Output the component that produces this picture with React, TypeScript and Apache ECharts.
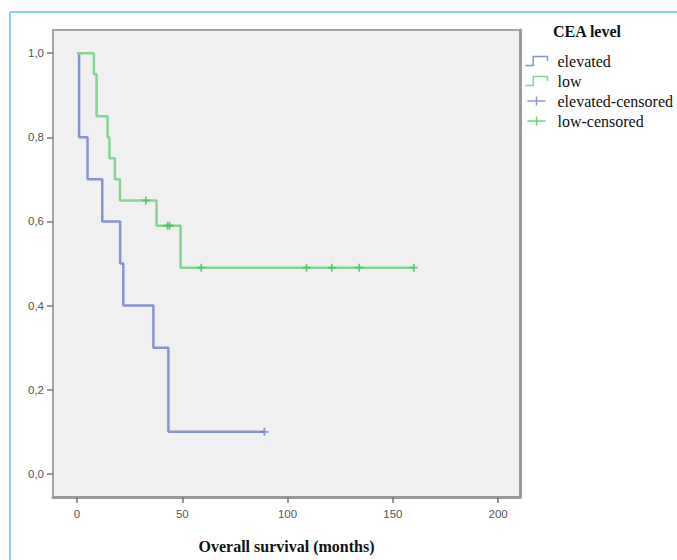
import React, { useEffect, useRef } from "react";
import * as echarts from "echarts";

const xTicks = [0, 50, 100, 150, 200];
const yTicks = [0, 0.2, 0.4, 0.6, 0.8, 1.0];

const elevatedTimes = [0, 1, 5, 12, 20.5, 22, 36.3, 43.4, 89];
const elevatedSurv = [1, 0.8, 0.7, 0.6, 0.5, 0.4, 0.3, 0.1, 0.1];

const lowTimes = [0, 8, 9.3, 14.5, 15.4, 18, 20.4, 37.8, 49.2, 160];
const lowSurv = [1, 0.95, 0.85, 0.8, 0.75, 0.7, 0.65, 0.59, 0.49, 0.49];

const elevatedCensTimes = [89];
const elevatedCensSurv = [0.1];

const lowCensTimes = [32.7, 43, 44, 59, 109, 121, 134, 160];
const lowCensSurv = [0.65, 0.59, 0.59, 0.49, 0.49, 0.49, 0.49, 0.49];

const BLUE = "#8794d0";
const GREEN = "#84d58f";
const BLUE_C = "#6f7fc8";
const GREEN_C = "#4cc35e";

const STEP_ICON = "path://M0,9 L7,9 L7,1 L20,1 L20,5";
const PLUS_ICON = "path://M10,0 L10,10 M0,5 L20,5";
const PLUS_SYMBOL = "path://M5,0 L5,10 M0,5 L10,5";

const zip = (a: number[], b: number[]) => a.map((v, i) => [v, b[i]]);

export default function App() {
  const ref = useRef<HTMLDivElement>(null);
  useEffect(() => {
    if (!ref.current) return;
    const chart = echarts.init(ref.current, null, { renderer: "svg" });
    const sans = "'Liberation Sans', Arial, sans-serif";
    const serif = "'Liberation Serif', 'Times New Roman', serif";
    chart.setOption({
      animation: false,
      backgroundColor: "#ffffff",
      title: {
        text: "CEA level",
        left: 548,
        top: 18,
        textStyle: { fontFamily: serif, fontSize: 16, fontWeight: "bold", color: "#111" },
      },
      legend: {
        orient: "vertical",
        left: 518,
        top: 48,
        itemWidth: 22,
        itemHeight: 9,
        itemGap: 4,
        textStyle: { fontFamily: serif, fontSize: 16, color: "#111", lineHeight: 16, padding: [0, 0, 0, 5] },
        data: [
          { name: "elevated", icon: STEP_ICON, itemStyle: { color: "none", borderColor: BLUE, borderWidth: 1.5 } },
          { name: "low", icon: STEP_ICON, itemStyle: { color: "none", borderColor: GREEN, borderWidth: 1.5 } },
          { name: "elevated-censored", icon: PLUS_ICON, itemStyle: { color: "none", borderColor: BLUE_C, borderWidth: 1.5 } },
          { name: "low-censored", icon: PLUS_ICON, itemStyle: { color: "none", borderColor: GREEN_C, borderWidth: 1.5 } },
        ],
      },
      grid: {
        left: 53,
        top: 30,
        width: 467,
        height: 467,
        show: true,
        backgroundColor: "#f0f0f0",
        borderColor: "#a6a6a6",
        borderWidth: 2,
      },
      xAxis: {
        type: "value",
        min: -11.4,
        max: 210.4,
        splitLine: { show: false },
        axisLine: { show: true, onZero: false, lineStyle: { color: "#9a9a9a", width: 3 } },
        axisTick: { show: true, customValues: xTicks, length: 6, lineStyle: { color: "#777", width: 1.5 } },
        axisLabel: {
          customValues: xTicks,
          margin: 11,
          color: "#555",
          fontFamily: sans,
          fontSize: 11.5,
        },
        name: "Overall survival (months)",
        nameLocation: "middle",
        nameGap: 41,
        nameTextStyle: { fontFamily: serif, fontSize: 16, fontWeight: "bold", color: "#111" },
      },
      yAxis: [
        {
          type: "value",
          min: -0.055,
          max: 1.055,
          splitLine: { show: false },
          axisLine: { show: true, onZero: false, lineStyle: { color: "#a6a6a6", width: 2 } },
          axisTick: { show: true, customValues: yTicks, length: 6, lineStyle: { color: "#777", width: 1.5 } },
          axisLabel: {
            customValues: yTicks,
            margin: 9,
            color: "#555",
            fontFamily: sans,
            fontSize: 11.5,
            formatter: (v: number) => v.toFixed(1).replace(".", ","),
          },
        },
        {
          type: "value",
          position: "right",
          min: -0.055,
          max: 1.055,
          splitLine: { show: false },
          axisLine: { show: true, onZero: false, lineStyle: { color: "#9a9a9a", width: 3 } },
          axisTick: { show: false },
          axisLabel: { show: false },
        },
      ],
      series: [
        {
          name: "elevated",
          type: "line",
          step: "end",
          showSymbol: false,
          data: zip(elevatedTimes, elevatedSurv),
          lineStyle: { color: BLUE, width: 2.5 },
          itemStyle: { color: BLUE },
          z: 3,
        },
        {
          name: "low",
          type: "line",
          step: "end",
          showSymbol: false,
          data: zip(lowTimes, lowSurv),
          lineStyle: { color: GREEN, width: 2.5 },
          itemStyle: { color: GREEN },
          z: 3,
        },
        {
          name: "elevated-censored",
          type: "scatter",
          symbol: PLUS_SYMBOL,
          symbolSize: [8, 8],
          data: zip(elevatedCensTimes, elevatedCensSurv),
          itemStyle: { color: "none", borderColor: BLUE_C, borderWidth: 1.8 },
          z: 4,
        },
        {
          name: "low-censored",
          type: "scatter",
          symbol: PLUS_SYMBOL,
          symbolSize: [8, 8],
          data: zip(lowCensTimes, lowCensSurv),
          itemStyle: { color: "none", borderColor: GREEN_C, borderWidth: 1.8 },
          z: 4,
        },
      ],
      graphic: [
        { type: "line", shape: { x1: 10, y1: 12, x2: 677, y2: 12 }, style: { stroke: "#5cc6e8", lineWidth: 1.5 } },
        { type: "line", shape: { x1: 10, y1: 12, x2: 10, y2: 560 }, style: { stroke: "#5cc6e8", lineWidth: 1.5 } },
      ],
    });
    return () => chart.dispose();
  }, []);
  return (
    <div
      ref={ref}
      style={{ position: "fixed", left: 0, top: 0, width: 677, height: 560 }}
    />
  );
}
